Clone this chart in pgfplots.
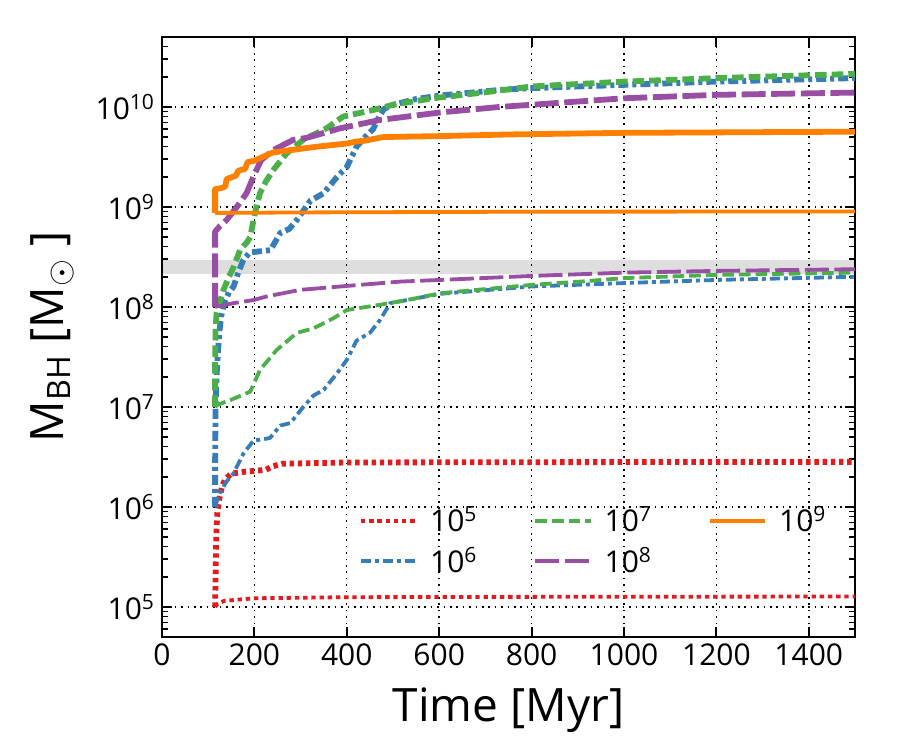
\documentclass[border=0pt]{standalone}
\usepackage{pgfplots}
\pgfplotsset{compat=1.18}
\usepackage{fontspec}
\setmainfont{Open Sans}
\definecolor{cred}{HTML}{E41A1C}
\definecolor{cblue}{HTML}{377EB8}
\definecolor{cgreen}{HTML}{4DAF4A}
\definecolor{cpurple}{HTML}{984EA3}
\definecolor{corange}{HTML}{FF7F00}
\tikzset{
  s5/.style={cred, dash pattern=on 2.2pt off 1.9pt},
  s6/.style={cblue, dash pattern=on 5pt off 2pt on 2pt off 2pt},
  s7/.style={cgreen, dash pattern=on 5.8pt off 2.5pt},
  s8/.style={cpurple, dash pattern=on 12pt off 2.8pt},
  s9/.style={corange},
  thk/.style={line width=2.9pt, line join=round},
  thn/.style={line width=1.9pt, line join=round},
}
\begin{document}
\begin{tikzpicture}
\begin{axis}[
  name=ax,
  scale only axis, width=346.5pt, height=300pt,
  xmin=0, xmax=1500, ymin=5e4, ymax=5e10, ymode=log,
  xtick={0,200,400,600,800,1000,1200,1400},
  xticklabels={0,200,400,600,800,1000,1200,1400},
  ytick={1e5,1e6,1e7,1e8,1e9,1e10},
  yticklabels={10\textsuperscript{5},10\textsuperscript{6},10\textsuperscript{7},10\textsuperscript{8},10\textsuperscript{9},10\textsuperscript{10}},
  minor ytick={5e4,6e4,7e4,8e4,9e4,
    2e5,3e5,4e5,5e5,6e5,7e5,8e5,9e5,
    2e6,3e6,4e6,5e6,6e6,7e6,8e6,9e6,
    2e7,3e7,4e7,5e7,6e7,7e7,8e7,9e7,
    2e8,3e8,4e8,5e8,6e8,7e8,8e8,9e8,
    2e9,3e9,4e9,5e9,6e9,7e9,8e9,9e9,
    2e10,3e10,4e10},
  tick align=inside,
  major tick length=5pt, minor tick length=3pt,
  every tick/.style={black, line width=1pt},
  every minor tick/.style={black, line width=0.8pt},
  axis line style={line width=1.2pt},
  grid=major,
  major grid style={black, line width=0.7pt, dash pattern=on 0.8pt off 2.4pt},
  /pgf/number format/assume math mode=true,
  tick label style={font=\fontsize{15}{18}\selectfont},
  xlabel={Time [Myr]},
  ylabel={M\textsubscript{BH} [M$_\odot$ ]},
  label style={font=\fontsize{23}{27}\selectfont},
  xlabel style={yshift=-4pt},
  ylabel style={yshift=4pt},
  legend columns=3,
  legend cell align=left,
  legend image code/.code={\draw[#1] (0cm,0cm) -- (0.97cm,0cm);},
  legend style={at={(0.275,0.232)}, anchor=north west, draw=none, fill=none,
    font=\fontsize{15}{17}\selectfont, row sep=2pt,
    /tikz/every odd column/.append style={column sep=4pt},
    /tikz/every even column/.append style={column sep=26pt}},
]
% observational band
\addplot[draw=none, fill=black, fill opacity=0.13, forget plot]
  coordinates {(0,2.15e8) (1500,2.15e8) (1500,2.95e8) (0,2.95e8)} -- cycle;

% 1e5
\addplot[s5, thn, forget plot] coordinates {
(115,1e5) (120,1.07e5) (135,1.15e5) (200,1.22e5) (400,1.25e5) (800,1.26e5) (1500,1.27e5)};
\addplot[s5, thk, forget plot] coordinates {
(115,1e5) (116,2e5) (117,4e5) (118,6e5) (120,9e5) (124,1.2e6) (130,1.6e6) (137,1.9e6)
(150,2.15e6) (180,2.25e6) (225,2.35e6) (240,2.55e6) (260,2.7e6) (400,2.78e6) (800,2.8e6) (1500,2.82e6)};

% 1e6
\addplot[s6, thn, forget plot] coordinates {
(115,1e6) (120,1.2e6) (125,1.37e6) (140,1.8e6) (155,2.17e6) (176,3.4e6) (198,4.6e6) (225,4.8e6)
(234,4.9e6) (256,6.5e6) (278,6.9e6) (306,1.0e7) (328,1.3e7) (350,1.48e7) (379,2.17e7) (400,2.95e7)
(421,4.6e7) (450,5.5e7) (472,7.4e7) (494,1.09e8) (530,1.17e8) (602,1.35e8) (800,1.6e8) (1000,1.73e8)
(1200,1.86e8) (1500,2.0e8)};
\addplot[s6, thk, forget plot] coordinates {
(115,1e6) (115,3e6) (116,1e7) (118,2e7) (121,3.5e7) (124,5.5e7) (128,8e7) (135,1.1e8) (145,1.4e8)
(155,1.6e8) (165,2.2e8) (176,2.95e8) (190,3.5e8) (235,3.7e8) (256,5.5e8) (275,6e8) (292,7.4e8)
(321,1.15e9) (350,1.37e9) (379,2.0e9) (400,2.5e9) (421,4.0e9) (440,5e9) (457,6e9) (470,8e9)
(480,9.5e9) (500,1.05e10) (550,1.2e10) (602,1.3e10) (732,1.48e10) (800,1.54e10) (1000,1.66e10)
(1200,1.79e10) (1500,1.94e10)};

% 1e7
\addplot[s7, thn, forget plot] coordinates {
(115,1.0e7) (120,1.05e7) (148,1.17e7) (191,1.42e7) (212,2.34e7) (248,3.7e7) (292,5.5e7) (328,6.1e7)
(371,7.7e7) (400,9.3e7) (472,1.05e8) (530,1.17e8) (602,1.37e8) (800,1.66e8) (905,1.79e8) (1000,1.94e8)
(1200,2.09e8) (1500,2.2e8)};
\addplot[s7, thk, forget plot] coordinates {
(115,1e7) (115,3e7) (116,6e7) (118,8.6e7) (125,1.1e8) (133,1.48e8) (145,2e8) (155,2.5e8) (169,3.7e8)
(185,4.5e8) (191,5.0e8) (201,8.6e8) (212,1.37e9) (225,1.8e9) (241,2.34e9) (270,3.44e9) (306,4.7e9)
(356,6.1e9) (392,8.0e9) (457,9.3e9) (500,1.05e10) (587,1.22e10) (700,1.4e10) (800,1.6e10)
(1000,1.79e10) (1200,1.94e10) (1500,2.14e10)};

% 1e8
\addplot[s8, thn, forget plot] coordinates {
(115,1e8) (155,1.09e8) (198,1.17e8) (226,1.27e8) (299,1.48e8) (400,1.62e8) (515,1.79e8) (602,1.86e8)
(800,2.04e8) (1000,2.2e8) (1200,2.29e8) (1500,2.38e8)};
\addplot[s8, thk, forget plot] coordinates {
(115,1e8) (115,5.66e8) (125,6.4e8) (140,7.4e8) (162,1.0e9) (183,1.37e9) (201,2.17e9) (215,2.95e9)
(241,3.7e9) (284,4.68e9) (313,4.9e9) (385,6.1e9) (472,7.4e9) (602,8.8e9) (732,1.0e10) (800,1.05e10)
(1000,1.22e10) (1200,1.32e10) (1500,1.39e10)};

% 1e9
\addplot[s9, thn, forget plot] coordinates {
(115,8.6e8) (120,8.7e8) (300,8.8e8) (800,8.95e8) (1500,9.0e8)};
\addplot[s9, thk, forget plot] coordinates {
(115,8.7e8) (115,1.5e9) (130,1.55e9) (137,1.6e9) (140,1.9e9) (160,2.05e9) (165,2.3e9) (180,2.4e9)
(185,2.8e9) (200,2.9e9) (240,3.5e9) (335,4.0e9) (400,4.3e9) (420,4.5e9) (440,4.6e9) (480,5.0e9)
(600,5.1e9) (750,5.3e9) (1000,5.5e9) (1500,5.65e9)};

\addlegendimage{s5, line width=2pt}
\addlegendimage{s7, line width=2pt}
\addlegendimage{s9, line width=2pt}
\addlegendimage{s6, line width=2pt}
\addlegendimage{s8, line width=2pt}
\legend{10\textsuperscript{5}, 10\textsuperscript{7}, 10\textsuperscript{9}, 10\textsuperscript{6}, 10\textsuperscript{8}}
\end{axis}
\path ([shift={(-81pt,-56.5pt)}]ax.south west) rectangle ([shift={(22.5pt,18.5pt)}]ax.north east);
\end{tikzpicture}
\end{document}
